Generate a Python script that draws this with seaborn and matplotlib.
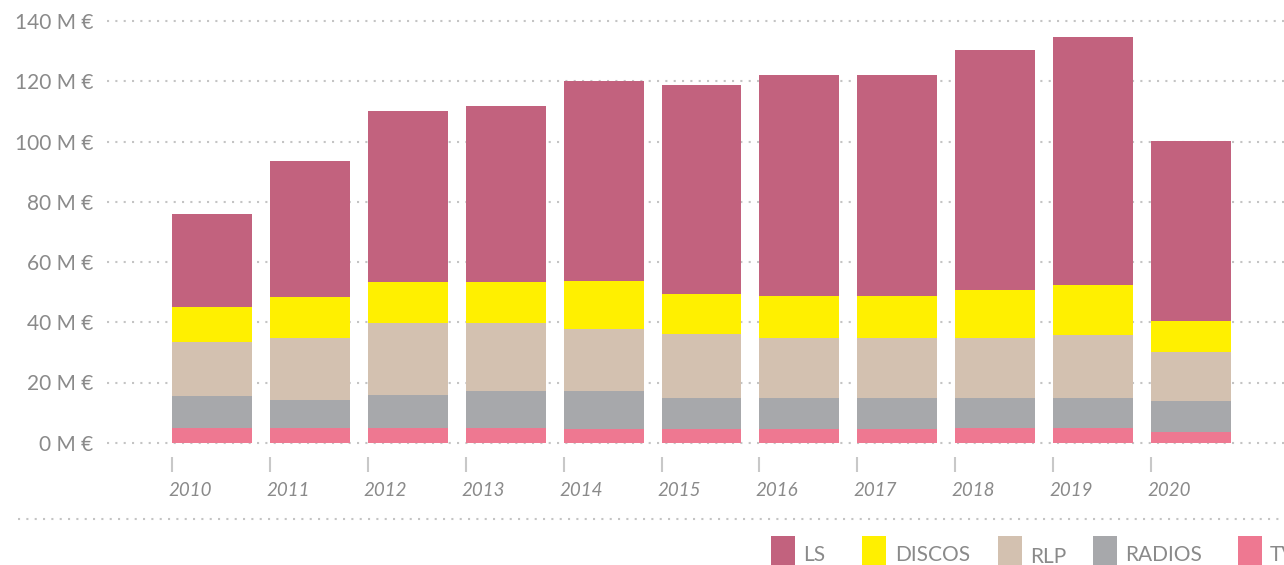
import numpy as np
import matplotlib
matplotlib.use("Agg")
import matplotlib.pyplot as plt
from matplotlib.patches import Rectangle
from matplotlib.lines import Line2D
import seaborn as sns

years = ["2010", "2011", "2012", "2013", "2014", "2015", "2016", "2017", "2018", "2019", "2020"]
series_names = ["LS", "DISCOS", "RLP", "RADIOS", "TV"]
tv = [5.0, 5.0, 5.0, 5.0, 4.7, 4.7, 4.7, 4.7, 4.8, 5.0, 3.7]
radios = [10.5, 9.3, 11.0, 12.3, 12.6, 10.0, 10.0, 10.0, 9.9, 10.0, 10.0]
rlp = [18.0, 20.4, 23.7, 22.4, 20.4, 21.3, 20.0, 20.0, 20.0, 20.8, 16.3]
discos = [11.5, 13.6, 13.6, 13.6, 16.0, 13.3, 14.0, 14.0, 16.0, 16.5, 10.3]
ls = [31.0, 45.4, 57.0, 58.4, 66.3, 69.7, 73.3, 73.3, 79.6, 82.4, 60.0]
colors = {"LS": "#c2627e", "DISCOS": "#fff000", "RLP": "#d3c1b0",
          "RADIOS": "#a7a8ab", "TV": "#ee7891"}
yticks = [0, 20, 40, 60, 80, 100, 120, 140]

sns.set_style("white")
plt.rcParams["font.family"] = ["Lato", "DejaVu Sans"]

W, H = 1284, 565
fig = plt.figure(figsize=(W / 100, H / 100), dpi=100)
y0, y140 = 442.7, 21.3
ax = fig.add_axes([107 / W, (H - y0) / H, 1 - 107 / W, (y0 - y140) / H])

# stacked from the bottom: TV, RADIOS, RLP, DISCOS, LS -> draw cumulative, tallest first
stack = {"TV": tv, "RADIOS": radios, "RLP": rlp, "DISCOS": discos, "LS": ls}
order_bottom_up = ["TV", "RADIOS", "RLP", "DISCOS", "LS"]
cum = {}
run = np.zeros(len(years))
for name in order_bottom_up:
    run = run + np.array(stack[name])
    cum[name] = run.copy()

bar_w = 0.816
for name in reversed(order_bottom_up):
    sns.barplot(x=years, y=cum[name], color=colors[name], width=bar_w,
                saturation=1, linewidth=0, ax=ax, zorder=2)

ax.set_xlim(-1.072, 10.95)
ax.set_ylim(0, 140)
ax.set_yticks(yticks)
ax.set_yticklabels([f"{v} M €" for v in yticks])
ax.tick_params(axis="y", length=0, pad=10, labelsize=15, labelcolor="#8a8a8a")
ax.set_xticks([])
ax.set_xlabel("")
ax.set_ylabel("")
for s in ax.spines.values():
    s.set_visible(False)

ax.grid(False)
for v in yticks:
    ax.axhline(v, color="#c4c4c4", lw=1.5, ls=(0, (1, 3)), zorder=0, clip_on=False)

# x ticks and italic year labels at the bar left edges
axh = y0 - y140
lefts = np.arange(len(years)) - bar_w / 2
trans = ax.get_xaxis_transform()
ax.vlines(lefts, -(457 - y0) / axh, -(472 - y0) / axh, color="#c8c8c8", lw=1.5,
          transform=trans, clip_on=False)
for xl, yr in zip(lefts, years):
    ax.text(xl - 0.04, -(491 - y0) / axh, yr, transform=trans, ha="left", va="center",
            fontsize=13.5, style="italic", color="#8a8a8a")

# separator line above the legend
fig.add_artist(Line2D([18 / W, 1], [1 - 519 / H, 1 - 519 / H], color="#c4c4c4",
                      lw=1.5, ls=(0, (1, 3)), transform=fig.transFigure))

# legend
leg = [("LS", 771, 803, 561), ("DISCOS", 862, 895, 561), ("RLP", 998, 1030, 563),
       ("RADIOS", 1093, 1125, 561), ("TV", 1238, 1270, 561)]
for name, sx, tx, base in leg:
    fig.add_artist(Rectangle((sx / W, 0), 24 / W, (H - 536) / H, transform=fig.transFigure,
                             facecolor=colors[name], edgecolor="none"))
    fig.text(tx / W, 1 - base / H, name, ha="left", va="baseline", fontsize=15,
             color="#8a8a8a")

fig.savefig("out.png", dpi=100, facecolor="white")
